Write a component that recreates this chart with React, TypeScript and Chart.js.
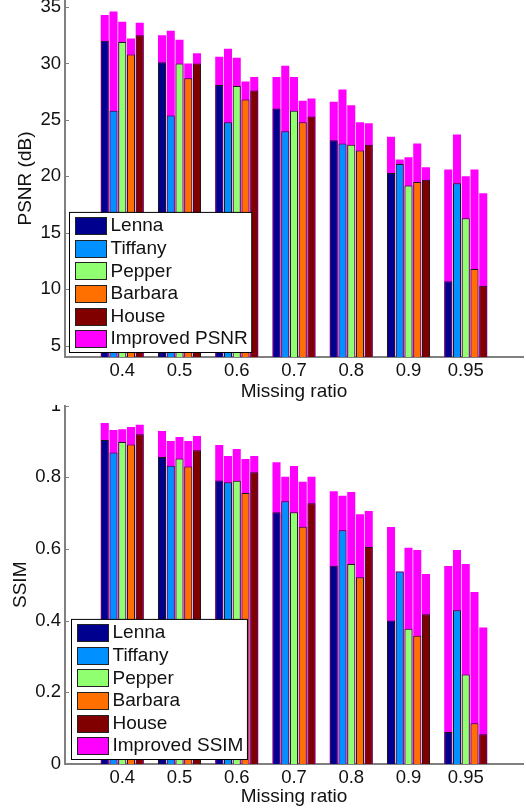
import React, { useEffect, useRef } from 'react';
import { Chart, registerables } from 'chart.js';

Chart.register(...registerables);

// ---------- data ----------
const ratios = ['0.4', '0.5', '0.6', '0.7', '0.8', '0.9', '0.95'];
const imageNames = ['Lenna', 'Tiffany', 'Pepper', 'Barbara', 'House'];
const seriesColors = ['#00008F', '#0090FF', '#90FF70', '#FF7000', '#800000'];
const improvedColor = '#FF00FF';

const psnrLenna = [32.0, 30.1, 28.1, 26.0, 23.2, 20.3, 10.7];
const psnrTiffany = [25.8, 25.4, 24.8, 24.0, 22.9, 21.1, 19.4];
const psnrPepper = [31.9, 30.0, 28.0, 25.8, 22.8, 19.2, 16.3];
const psnrBarbara = [30.8, 28.7, 26.8, 24.8, 22.3, 19.5, 11.8];
const psnrHouse = [32.5, 30.0, 27.6, 25.3, 22.8, 19.7, 10.3];

const psnrImpLenna = [34.3, 32.5, 30.6, 28.8, 26.6, 23.5, 20.6];
const psnrImpTiffany = [34.6, 32.9, 31.3, 29.8, 27.7, 21.5, 23.7];
const psnrImpPepper = [33.7, 32.1, 30.5, 28.8, 26.3, 21.7, 20.0];
const psnrImpBarbara = [32.2, 30.0, 28.4, 26.7, 24.8, 22.9, 20.6];
const psnrImpHouse = [33.6, 30.9, 28.8, 26.9, 24.7, 20.8, 18.5];

const ssimLenna = [0.904, 0.856, 0.791, 0.702, 0.553, 0.4, 0.089];
const ssimTiffany = [0.869, 0.832, 0.786, 0.733, 0.652, 0.537, 0.429];
const ssimPepper = [0.898, 0.852, 0.79, 0.702, 0.558, 0.377, 0.25];
const ssimBarbara = [0.891, 0.83, 0.756, 0.662, 0.521, 0.358, 0.114];
const ssimHouse = [0.92, 0.875, 0.814, 0.727, 0.605, 0.418, 0.083];

const ssimImpLenna = [0.951, 0.929, 0.89, 0.842, 0.761, 0.661, 0.552];
const ssimImpTiffany = [0.932, 0.901, 0.859, 0.801, 0.748, 0.537, 0.597];
const ssimImpPepper = [0.934, 0.912, 0.879, 0.831, 0.759, 0.603, 0.558];
const ssimImpBarbara = [0.94, 0.901, 0.851, 0.787, 0.697, 0.597, 0.48];
const ssimImpHouse = [0.946, 0.915, 0.859, 0.801, 0.706, 0.53, 0.381];

const psnrTicks = [5, 10, 15, 20, 25, 30, 35];
const ssimTicks = [0, 0.2, 0.4, 0.6, 0.8, 1];

const FONT = '"Liberation Sans", Arial, Helvetica, sans-serif';
const TEXT = '#111111';
const AXIS = '#808080';

Chart.defaults.font.family = FONT;
Chart.defaults.color = TEXT;

type PanelCfg = {
  top: number;
  height: number;
  padTop: number;
  xAxisHeight: number;
  yMin: number;
  yMax: number;
  yTicks: number[];
  yTitle: string;
  yTitlePad: number;
  xTitlePad: number;
  base: number[][];
  improved: number[][];
  improvedLabel: string;
  legendDx: number;
};

const legendPlugin = {
  id: 'matlabLegend',
  afterDraw(chart: any, _args: any, opts: any) {
    const ctx = chart.ctx as CanvasRenderingContext2D;
    const ca = chart.chartArea;
    // inward tick marks on y axis
    const ys = chart.scales.y;
    ctx.save();
    ctx.strokeStyle = AXIS;
    ctx.lineWidth = 1;
    for (const t of ys.ticks) {
      const py = Math.round(ys.getPixelForValue(t.value)) + 0.5;
      ctx.beginPath();
      ctx.moveTo(ca.left, py);
      ctx.lineTo(ca.left + 4, py);
      ctx.stroke();
    }
    ctx.restore();

    const labels: string[] = opts.labels;
    const colors: string[] = opts.colors;
    const fontSize = 19;
    ctx.save();
    ctx.font = `${fontSize}px ${FONT}`;
    let maxW = 0;
    for (const l of labels) maxW = Math.max(maxW, ctx.measureText(l).width);
    const rowH = 22.6;
    const swW = 31;
    const swH = 17;
    const boxW = 6 + swW + 4 + maxW + 4;
    const boxH = labels.length * rowH + 4.5;
    const left = Math.round(ca.left + opts.dx) + 0.5;
    const bottom = Math.round(ca.bottom - 5) + 0.5;
    const top = bottom - boxH;
    ctx.fillStyle = '#ffffff';
    ctx.fillRect(left, top, boxW, boxH);
    ctx.strokeStyle = '#000000';
    ctx.lineWidth = 1;
    ctx.strokeRect(left, top, boxW, boxH);
    ctx.textBaseline = 'middle';
    ctx.textAlign = 'left';
    labels.forEach((l, i) => {
      const cy = top + 13.2 + i * rowH;
      const sx = left + 6;
      const sy = Math.round(cy - swH / 2) + 0.5;
      ctx.fillStyle = colors[i];
      ctx.fillRect(sx, sy, swW, swH);
      ctx.strokeStyle = '#222222';
      ctx.strokeRect(sx, sy, swW, swH);
      ctx.fillStyle = TEXT;
      ctx.fillText(l, sx + swW + 4, cy + 0.5);
    });
    ctx.restore();
  },
};

function Panel({ cfg }: { cfg: PanelCfg }) {
  const ref = useRef<HTMLCanvasElement>(null);
  useEffect(() => {
    const pad = (a: number[]) => [null, ...a, null];
    const labels = ['', ...ratios, ''];
    const baseSets = cfg.base.map((d, i) => ({
      label: imageNames[i],
      data: pad(d),
      backgroundColor: seriesColors[i],
      borderColor: '#1a1a1a',
      borderWidth: 1,
      stack: 's' + i,
      categoryPercentage: 0.764,
      barPercentage: 0.92,
    }));
    const impSets = cfg.improved.map((d, i) => ({
      label: cfg.improvedLabel,
      data: pad(d),
      backgroundColor: improvedColor,
      borderWidth: 0,
      stack: 's' + i,
      categoryPercentage: 0.764,
      barPercentage: 0.92,
    }));
    const chart = new Chart(ref.current as HTMLCanvasElement, {
      type: 'bar',
      data: { labels, datasets: [...baseSets, ...impSets] as any },
      plugins: [legendPlugin],
      options: {
        animation: false,
        responsive: false,
        maintainAspectRatio: false,
        layout: { padding: { left: 0, right: 3, top: cfg.padTop, bottom: 0 } },
        plugins: {
          legend: { display: false },
          tooltip: { enabled: false },
          matlabLegend: {
            labels: [...imageNames, cfg.improvedLabel],
            colors: [...seriesColors, improvedColor],
            dx: cfg.legendDx,
          },
        } as any,
        scales: {
          x: {
            type: 'category',
            offset: false,
            grid: { display: false, drawTicks: false },
            border: { display: true, color: AXIS, width: 2 },
            ticks: {
              autoSkip: false,
              maxRotation: 0,
              padding: 3,
              font: { size: 18.5, family: FONT },
              color: TEXT,
            },
            title: {
              display: true,
              text: 'Missing ratio',
              font: { size: 19, family: FONT },
              color: TEXT,
              padding: { top: cfg.xTitlePad, bottom: cfg.xTitlePad },
            },
            afterFit: (s: any) => {
              s.height = cfg.xAxisHeight;
              s.paddingLeft = 0;
              s.paddingRight = 0;
            },
          },
          y: {
            type: 'linear',
            stacked: false,
            min: cfg.yMin,
            max: cfg.yMax,
            grid: { display: false, drawTicks: false },
            border: { display: true, color: AXIS, width: 2 },
            afterBuildTicks: (s: any) => {
              s.ticks = cfg.yTicks.map((v) => ({ value: v }));
            },
            ticks: {
              padding: 4,
              font: { size: 18.5, family: FONT },
              color: TEXT,
              callback: (v: any) => String(v),
            },
            title: {
              display: true,
              text: cfg.yTitle,
              font: { size: 19, family: FONT },
              color: TEXT,
              padding: { top: cfg.yTitlePad, bottom: cfg.yTitlePad },
            },
            afterFit: (s: any) => {
              s.width = 65;
              s.paddingTop = 0;
              s.paddingBottom = 0;
            },
          },
        },
      } as any,
    });
    return () => chart.destroy();
  }, []);
  return (
    <canvas
      ref={ref}
      width={526}
      height={cfg.height}
      style={{
        position: 'absolute',
        left: 0,
        top: cfg.top,
        width: 526,
        height: cfg.height,
        zIndex: cfg.top === 0 ? 2 : 1,
      }}
    />
  );
}

const psnrPanel: PanelCfg = {
  top: 0,
  height: 404,
  padTop: 0,
  xAxisHeight: 47,
  yMin: 4,
  yMax: 35.62,
  yTicks: psnrTicks,
  yTitle: 'PSNR (dB)',
  yTitlePad: 14.4,
  xTitlePad: 0.6,
  base: [psnrLenna, psnrTiffany, psnrPepper, psnrBarbara, psnrHouse],
  improved: [psnrImpLenna, psnrImpTiffany, psnrImpPepper, psnrImpBarbara, psnrImpHouse],
  improvedLabel: 'Improved PSNR',
  legendDx: 4,
};

const ssimPanel: PanelCfg = {
  top: 405,
  height: 406,
  padTop: 0.5,
  xAxisHeight: 47,
  yMin: 0,
  yMax: 1,
  yTicks: ssimTicks,
  yTitle: 'SSIM',
  yTitlePad: 9.4,
  xTitlePad: 3,
  base: [ssimLenna, ssimTiffany, ssimPepper, ssimBarbara, ssimHouse],
  improved: [ssimImpLenna, ssimImpTiffany, ssimImpPepper, ssimImpBarbara, ssimImpHouse],
  improvedLabel: 'Improved SSIM',
  legendDx: 6,
};

export default function App() {
  return (
    <div style={{ position: 'absolute', left: 0, top: 0, width: 526, height: 811, background: '#ffffff' }}>
      <Panel cfg={psnrPanel} />
      <Panel cfg={ssimPanel} />
    </div>
  );
}
